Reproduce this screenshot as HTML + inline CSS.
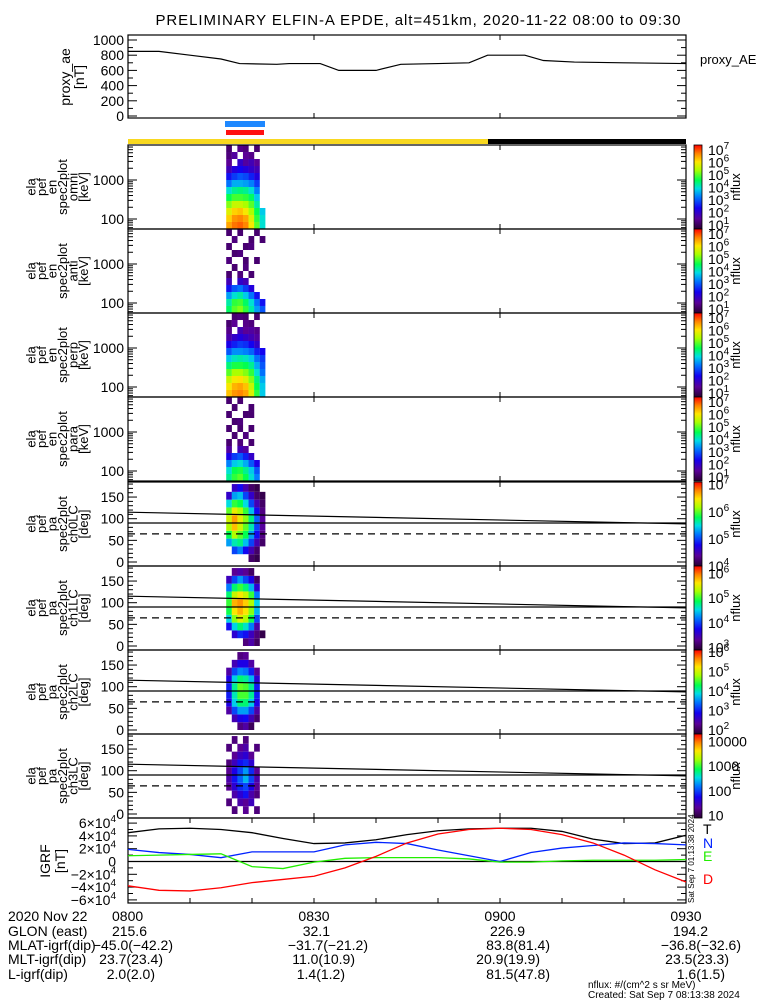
<!DOCTYPE html>
<html><head><meta charset="utf-8"><style>
body{margin:0;background:#fff}
svg{display:block;font-family:"Liberation Sans",sans-serif}
</style></head><body>
<svg id="s" width="775" height="1000" viewBox="0 0 775 1000">
<defs><linearGradient id="cb" x1="0" y1="1" x2="0" y2="0">
<stop offset="0" stop-color="rgb(40,0,50)"/><stop offset="0.12" stop-color="rgb(90,0,150)"/><stop offset="0.25" stop-color="rgb(20,0,240)"/><stop offset="0.38" stop-color="rgb(0,120,255)"/><stop offset="0.48" stop-color="rgb(0,220,230)"/><stop offset="0.58" stop-color="rgb(0,255,80)"/><stop offset="0.7" stop-color="rgb(170,255,0)"/><stop offset="0.8" stop-color="rgb(255,230,0)"/><stop offset="0.9" stop-color="rgb(255,130,0)"/><stop offset="1" stop-color="rgb(255,0,0)"/>
</linearGradient></defs>
<text x="418" y="25" text-anchor="middle" font-size="15" textLength="525">PRELIMINARY ELFIN-A EPDE, alt=451km, 2020-11-22 08:00 to 09:30</text>
</svg>
<script>
// ---- data ----
const aeTimes=[0,5,10,15,18,24,26,31,34,40,44,50,55,58,64,67,72,80,90];
const aeValues=[850,850,800,750,690,680,690,690,600,600,680,690,700,800,800,730,710,700,690];
const grfTimes=[0,5,10,15,20,25,30,35,40,45,50,55,60,65,70,75,80,85,90];
const grfT=[4.5,5.1,5.2,5.0,4.5,3.6,2.8,2.9,3.4,4.2,4.8,5.1,5.2,5.2,4.7,3.5,2.8,2.9,4.1];
const grfN=[1.9,1.4,1.1,0.6,1.5,1.5,1.5,2.6,3.0,2.8,1.8,0.9,0.0,1.4,2.1,2.5,2.9,2.8,2.6];
const grfE=[0.9,1.0,1.1,1.2,-0.8,-1.1,-0.1,0.5,0.6,0.6,0.6,0.4,-0.1,-0.1,0.1,0.2,0.2,0.2,0.3];
const grfD=[-3.8,-4.5,-4.6,-4.1,-3.3,-2.8,-2.3,-1.0,0.8,2.9,4.3,5.0,5.2,5.0,4.2,2.9,1.0,-1.3,-3.2];
const specTimes=[16.3,17.2,18.1,19.0,19.9,20.8,21.7];
const omniFlux=[[6.5,6.8,6.9,6.7,6.0,5.0,4.0],[6.2,6.6,6.7,6.5,5.8,4.8,4.0],[5.8,6.2,6.3,6.0,5.4,4.6,3.8],[5.2,5.6,5.6,5.4,5.0,4.2,0],[4.6,4.9,4.9,4.8,4.5,3.8,0],[4.0,4.3,4.4,4.3,4.0,3.3,0],[3.2,3.6,3.6,3.5,3.3,2.8,0],[2.5,2.8,3.0,2.9,2.6,2.2,0],[1.8,2.2,2.4,2.2,2.0,1.8,0],[1.5,0,2.0,1.6,1.8,1.5,0],[1.3,1.6,0,1.5,1.4,0,0],[1.2,0,1.4,1.3,0,1.2,0]];
const antiFlux=[[4.5,5.0,5.2,4.8,4.2,3.5,3.0],[4.2,4.8,4.9,4.5,4.0,3.2,2.5],[3.5,4.0,4.2,3.8,3.2,2.5,0],[2.5,3.0,3.2,2.8,2.2,0,0],[1.8,0,2.0,1.8,0,0,0],[1.2,0,1.3,0,1.2,0,0],[0,1.2,0,1.3,0,0,0],[1.3,0,0,1.2,0,1.2,0],[0,1.2,1.3,0,0,0,0],[1.2,0,0,1.2,1.3,0,0],[0,1.3,0,0,1.2,0,1.2],[1.2,0,1.2,0,0,1.2,0]];
const perpFlux=[[6.3,6.6,6.7,6.5,5.8,4.8,3.8],[6.0,6.4,6.5,6.3,5.6,4.6,3.8],[5.6,6.0,6.1,5.8,5.2,4.4,3.6],[5.0,5.4,5.4,5.2,4.8,4.0,3.2],[4.4,4.7,4.7,4.6,4.3,3.6,3.0],[3.8,4.1,4.2,4.1,3.8,3.2,2.8],[3.0,3.4,3.4,3.3,3.1,2.6,2.4],[2.3,2.6,2.8,2.7,2.4,2.0,0],[1.7,2.0,2.2,2.0,1.8,1.6,0],[1.4,0,1.8,1.5,1.6,1.4,0],[1.2,1.5,0,1.4,1.3,0,0],[0,1.2,1.3,1.2,0,1.2,0]];
const paraFlux=[[4.3,4.8,5.0,4.6,4.0,3.3,0],[4.0,4.6,4.7,4.3,3.8,3.0,0],[3.3,3.8,4.0,3.6,3.0,2.3,0],[2.3,2.8,3.0,2.6,2.0,0,0],[1.6,0,1.8,1.6,0,0,0],[1.2,0,1.3,0,1.2,0,0],[0,1.2,0,1.3,0,0,0],[1.2,0,1.2,0,1.2,0,0],[0,1.2,1.3,0,0,0,0],[1.2,0,0,1.2,1.2,0,0],[0,1.2,0,0,1.2,0,0],[1.2,0,1.2,0,0,0,0]];
const pa0Flux=[[0,0,0,0,4.2,4.1,0],[0,5.0,5.2,4.8,4.5,4.2,0],[5.3,5.6,5.7,5.4,5.0,4.5,4.2],[5.8,6.2,6.0,5.8,5.3,4.8,4.3],[6.2,6.6,6.3,6.0,5.6,5.0,4.4],[6.3,6.7,6.4,6.1,5.7,5.1,4.4],[6.0,6.4,6.2,5.9,5.4,4.8,4.3],[5.5,5.9,5.8,5.5,5.0,4.5,4.2],[4.6,5.3,5.4,5.0,4.6,4.2,4.1],[0,4.6,4.8,4.5,4.2,4.1,0]];
const pa1Flux=[[0,0,0,3.2,3.4,3.1,0],[0,3.6,3.9,3.8,3.5,3.2,3.0],[3.8,4.5,4.8,4.6,4.2,3.4,0],[4.5,5.2,5.5,5.3,4.9,4.0,0],[4.9,5.6,5.8,5.6,5.2,4.4,0],[5.0,5.8,5.9,5.7,5.3,4.5,0],[4.8,5.4,5.6,5.4,5.0,4.2,0],[4.2,4.8,5.0,4.8,4.4,3.6,0],[3.5,4.0,4.3,4.0,3.7,3.1,0],[0,3.3,3.4,3.3,3.1,0,0]];
const pa2Flux=[[0,0,2.2,2.4,2.0,0,0],[0,2.5,2.8,2.9,2.5,2.1,0],[2.4,3.2,3.6,3.6,3.2,2.4,0],[2.8,3.8,4.2,4.2,3.8,2.8,0],[3.0,4.0,4.5,4.5,4.1,3.0,0],[3.0,4.1,4.6,4.5,4.1,3.0,0],[2.8,3.8,4.2,4.1,3.7,2.7,0],[2.4,3.2,3.5,3.4,3.0,2.3,0],[0,2.5,2.8,2.8,2.4,0,0],[0,0,2.2,2.3,0,0,0]];
const pa3Flux=[[0,1.2,0,1.3,0,1.2,0],[1.2,0,1.4,1.3,1.5,0,0],[0,1.4,1.6,1.8,1.4,1.2,0],[1.3,1.6,1.9,2.0,1.7,1.3,0],[1.4,1.8,2.1,2.4,2.0,1.4,0],[1.3,1.7,2.0,2.3,1.9,1.3,0],[1.2,1.5,1.8,1.9,1.6,0,0],[0,1.3,1.5,1.6,1.3,0,0],[1.2,0,1.3,1.4,0,1.2,0],[0,1.2,0,1.2,0,0,0]];
const lcStart=[115],lcEnd=[88],paFlat=[90],paDash=[65];

// ---- helpers ----
const S=document.getElementById('s'),NS='http://www.w3.org/2000/svg';
function mk(tag,at,txt){const e=document.createElementNS(NS,tag);for(const k in at)e.setAttribute(k,at[k]);if(txt!=null)e.textContent=txt;S.appendChild(e);return e;}
const X0=128,X1=686;const xT=t=>X0+(X1-X0)*t/90;
const stops=[[0,40,0,50],[0.12,90,0,150],[0.25,20,0,240],[0.38,0,120,255],[0.48,0,220,230],[0.58,0,255,80],[0.7,170,255,0],[0.8,255,230,0],[0.9,255,130,0],[1,255,0,0]];
function cmap(f){f=Math.max(0,Math.min(1,f));for(let i=1;i<stops.length;i++){if(f<=stops[i][0]){const a=stops[i-1],b=stops[i],u=(f-a[0])/(b[0]-a[0]);return `rgb(${Math.round(a[1]+u*(b[1]-a[1]))},${Math.round(a[2]+u*(b[2]-a[2]))},${Math.round(a[3]+u*(b[3]-a[3]))})`;}}return 'red';}
function ylabel(lines,x0,dx,yc,fs){lines.forEach((l,i)=>{const e=mk('text',{transform:`translate(${x0+dx*i},${yc}) rotate(-90)`,'text-anchor':'middle','dominant-baseline':'central','font-size':fs||13},l);

});}
function box(top,h,name){const r=mk('rect',{x:X0,y:top,width:X1-X0,height:h,fill:'none',stroke:'#000','stroke-width':1.2});


[30,60].forEach(t=>{mk('line',{x1:xT(t),x2:xT(t),y1:top,y2:top+5,stroke:'#000'});mk('line',{x1:xT(t),x2:xT(t),y1:top+h,y2:top+h-5,stroke:'#000'});});}
function ytick(y,len){mk('line',{x1:X0,x2:X0+len,y1:y,y2:y,stroke:'#000'});mk('line',{x1:X1,x2:X1-len,y1:y,y2:y,stroke:'#000'});}
function ytext(y,s){const e=mk('text',{x:124,y:y+5,'text-anchor':'end','font-size':14},s);

return e;}
function colorbar(top,h,vmin,vmax,labels,sup){const r=mk('rect',{x:694,y:top,width:8,height:h,fill:'url(#cb)',stroke:'#000','stroke-width':0.8});


labels.forEach(v=>{const y=top+h-(v-vmin)/(vmax-vmin)*h;const t=mk('text',{x:708,y:y+5,'font-size':14});


if(sup){t.textContent='10';const ts=document.createElementNS(NS,'tspan');ts.setAttribute('dy','-6');ts.setAttribute('font-size','10');ts.textContent=v;t.appendChild(ts);}else t.textContent=String(Math.round(Math.pow(10,v)));});
const n=mk('text',{transform:`translate(740,${top+h/2}) rotate(-90)`,'text-anchor':'middle','font-size':13},'nflux');

}

// ---- proxy AE panel ----
const aeTop=35,aeH=83,yAE=v=>116-v*0.076;
box(aeTop,aeH,'proxy-ae-panel');
[0,200,400,600,800,1000].forEach(v=>{ytick(yAE(v),9);ytext(yAE(v),String(v));});
for(let v=100;v<1000;v+=200)ytick(yAE(v),5);
mk('polyline',{points:aeTimes.map((t,i)=>xT(t)+','+yAE(aeValues[i])).join(' '),fill:'none',stroke:'#000','stroke-width':1.2,});
ylabel(['proxy_ae','[nT]'],65,14,77,14);
mk('text',{x:700,y:64,'font-size':13,},'proxy_AE');

// ---- status bars ----
mk('rect',{x:225,y:121,width:40,height:6,fill:'#1e88ff',});
mk('rect',{x:226,y:130,width:38,height:5,fill:'#ff1010',});
mk('rect',{x:X0,y:139,width:488-X0,height:5,fill:'#f8d820',});
mk('rect',{x:488,y:139,width:X1-488,height:5,fill:'#000',});

// ---- spectrogram panels ----
const tops=[145,229,313,397,482,566,650,734],PH=84;
const colW=0.92;
function drawCells(top,grid,rowY,vmin,vmax,name){grid.forEach((row,ri)=>{const [ya,yb]=rowY(ri);row.forEach((v,ci)=>{if(!v)return;const xa=xT(specTimes[ci]-colW/2),xb=xT(specTimes[ci]+colW/2);
const r=mk('rect',{x:xa,y:Math.min(ya,yb),width:xb-xa,height:Math.abs(yb-ya),fill:cmap((v-vmin)/(vmax-vmin))});

});});}
const eLo=1.744,eHi=3.897,eN=12,eW=(eHi-eLo)/eN;
const enPanels=[[omniFlux,'omni'],[antiFlux,'anti'],[perpFlux,'perp'],[paraFlux,'para']];
enPanels.forEach(([g,nm],p)=>{const top=tops[p];const yE=le=>top+74-39*(le-2);
drawCells(top,g,ri=>[yE(eLo+ri*eW),yE(eLo+(ri+1)*eW)],0.7,7.4,'spec-'+nm);
box(top,PH,'spec-'+nm+'-panel');
for(let d=1;d<=3;d++)for(let m=1;m<10;m++){const le=d+Math.log10(m);if(le<eLo||le>eHi)continue;ytick(yE(le),m==1?9:5);}
ytext(yE(3),'1000');ytext(yE(2),'100');
ylabel(['ela','pef','en','spec2plot',nm,'[keV]'],31,10.5,top+PH/2);
colorbar(top,PH,0.7,7.4,[1,2,3,4,5,6,7],true);});
const paPanels=[[pa0Flux,'ch0LC',4.0,7.1,[4,5,6,7],true],[pa1Flux,'ch1LC',2.9,6.3,[3,4,5,6],true],[pa2Flux,'ch2LC',1.8,6.1,[2,3,4,5,6],true],[pa3Flux,'ch3LC',0.9,4.3,[1,2,3,4],false]];
paPanels.forEach(([g,nm,vmin,vmax,labs,sup],k)=>{const top=tops[4+k];const yP=a=>top+80-0.433*a;
drawCells(top,g,ri=>[yP(ri*18),yP((ri+1)*18)],vmin,vmax,'pa-'+nm);
box(top,PH,'pa-'+nm+'-panel');
for(let a=0;a<=180;a+=10)ytick(yP(a),a%50==0?9:5);
[0,50,100,150].forEach(a=>ytext(yP(a),String(a)));
mk('line',{x1:X0,x2:X1,y1:yP(lcStart[0]),y2:yP(lcEnd[0]),stroke:'#000','stroke-width':1.2,});
mk('line',{x1:X0,x2:X1,y1:yP(paFlat[0]),y2:yP(paFlat[0]),stroke:'#000','stroke-width':1.2,});
mk('line',{x1:X0,x2:X1,y1:yP(paDash[0]),y2:yP(paDash[0]),stroke:'#000','stroke-width':1.2,'stroke-dasharray':'7,5',});
ylabel(['ela','pef','pa','spec2plot',nm,'[deg]'],31,10.5,top+PH/2);
colorbar(top,PH,vmin,vmax,labs,sup);});

// ---- IGRF panel ----
const gTop=818,gH=85,yG=v=>861.5-v*6.4;
box(gTop,gH,'igrf-panel');
for(let t=10;t<90;t+=10){mk('line',{x1:xT(t),x2:xT(t),y1:gTop,y2:gTop+5,stroke:'#000'});mk('line',{x1:xT(t),x2:xT(t),y1:gTop+gH,y2:gTop+gH-5,stroke:'#000'});}
mk('line',{x1:X0,x2:X1,y1:yG(0),y2:yG(0),stroke:'#000','stroke-width':1.2,});
for(let v=-6;v<=6;v+=1)ytick(yG(v),v%2==0?9:5);
[-6,-4,-2,2,4,6].forEach(v=>{const t=ytext(yG(v),(v<0?'\u2212':'')+Math.abs(v)+'\u00d710');const ts=document.createElementNS(NS,'tspan');ts.setAttribute('dy','-6');ts.setAttribute('font-size','10');ts.textContent='4';t.appendChild(ts);t.setAttribute('x','116');});
ytext(yG(0),'0').setAttribute('x','116');
[[grfT,'#000','T'],[grfN,'#0022ff','N'],[grfE,'#22ee00','E'],[grfD,'#ff0000','D']].forEach(([arr,c,n])=>{
mk('polyline',{points:grfTimes.map((t,i)=>xT(t)+','+yG(arr[i])).join(' '),fill:'none',stroke:c,'stroke-width':1.3,});});
ylabel(['IGRF','[nT]'],45,15,861,14);
[['T',834,'#000'],['N',848,'#0022ff'],['E',861,'#22ee00'],['D',884,'#ff0000']].forEach(([s,y,c])=>mk('text',{x:703,y:y,'font-size':14,fill:c,},s));
mk('text',{transform:'translate(694,903) rotate(-90)','font-size':8,},'Sat Sep  7 01:13:38 2024');

// ---- bottom annotation ----
const rowsY=[921,936,950,964,979];
const rowLabels=['2020 Nov 22','GLON (east)','MLAT-igrf(dip)','MLT-igrf(dip)','L-igrf(dip)'];
rowLabels.forEach((l,i)=>mk('text',{x:8,y:rowsY[i],'font-size':14,},l));
const cells=[[0,112,'start','0800'],[0,314,'middle','0830'],[0,500,'middle','0900'],[0,686,'middle','0930'],
[1,147,'end','215.6'],[1,330,'end','32.1'],[1,525,'end','226.9'],[1,708,'end','194.2'],
[2,173,'end','-45.0(-42.2)'],[2,368,'end','-31.7(-21.2)'],[2,550,'end','83.8(81.4)'],[2,741,'end','-36.8(-32.6)'],
[3,163,'end','23.7(23.4)'],[3,355,'end','11.0(10.9)'],[3,540,'end','20.9(19.9)'],[3,729,'end','23.5(23.3)'],
[4,155,'end','2.0(2.0)'],[4,345,'end','1.4(1.2)'],[4,550,'end','81.5(47.8)'],[4,725,'end','1.6(1.5)']];
cells.forEach(([r,x,a,s])=>mk('text',{x:x,y:rowsY[r],'text-anchor':a,'font-size':14,},s.replace(/-/g,'\u2212')));
mk('text',{x:588,y:988,'font-size':10,},'nflux: #/(cm^2 s sr MeV)');
mk('text',{x:588,y:998,'font-size':10,},'Created: Sat Sep  7 08:13:38 2024');
</script>
</body></html>
